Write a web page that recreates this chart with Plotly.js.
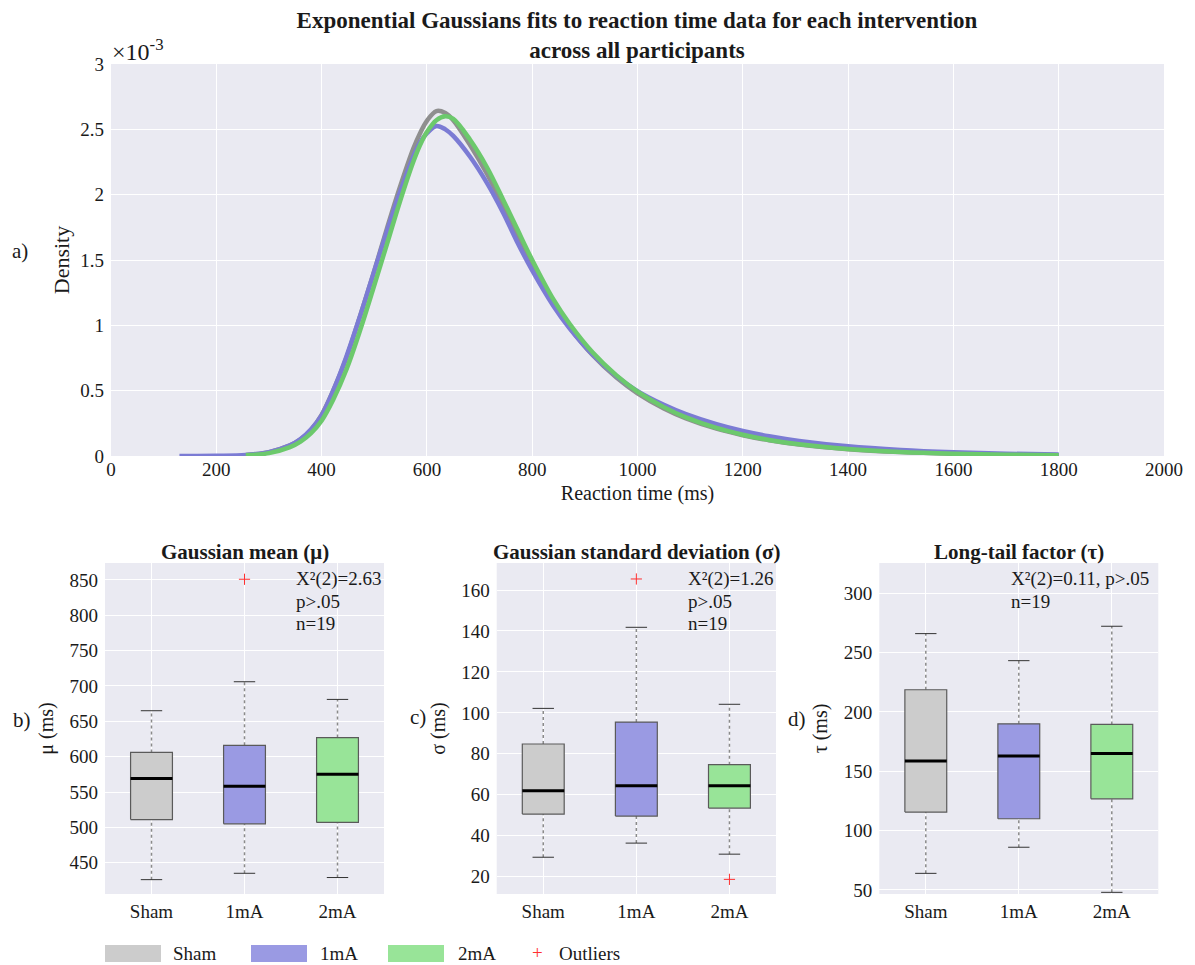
<!DOCTYPE html>
<html>
<head>
<meta charset="utf-8">
<script src="https://cdn.plot.ly/plotly-3.0.1.min.js"></script>
<style>
  html, body { margin: 0; padding: 0; background: #fff; }
  #chart { width: 1195px; height: 965px; }
</style>
</head>
<body>
<div id="chart"></div>
<script>
// ---------------- DATA ----------------
const groups = ['Sham', '1mA', '2mA'];

// Top panel: ex-Gaussian density curves (density in units of 1e-3)
const rtShared = [256, 300, 340, 360, 380, 400, 422, 447, 473, 498, 524, 549, 574, 587, 600, 618, 635, 650, 682, 714,
                  745, 770, 800, 840, 871, 915, 960, 1000, 1050, 1092, 1150, 1200, 1250, 1307, 1400, 1500, 1600, 1700, 1800];
const densSham = [0.007, 0.03, 0.081, 0.127, 0.20, 0.315, 0.50, 0.75, 1.07, 1.39, 1.74, 2.06, 2.35, 2.47, 2.565, 2.64, 2.625, 2.57, 2.38, 2.16,
                  1.91, 1.69, 1.46, 1.168, 0.985, 0.771, 0.600, 0.48, 0.364, 0.288, 0.209, 0.159, 0.12, 0.087, 0.052, 0.030, 0.017, 0.0098, 0.0056];
const rt1mA = [130, 200, 256, 300, 340, 360, 380, 400, 422, 447, 473, 498, 524, 549, 574, 587, 600, 618, 635, 650, 682, 714,
               745, 770, 800, 840, 871, 915, 960, 1000, 1050, 1092, 1150, 1200, 1250, 1307, 1400, 1500, 1600, 1700, 1800];
const dens1mA = [0, 0.001, 0.007, 0.03, 0.082, 0.13, 0.205, 0.31, 0.50, 0.76, 1.07, 1.39, 1.72, 2.02, 2.29, 2.40, 2.47, 2.526, 2.50, 2.45, 2.29, 2.09,
                 1.86, 1.65, 1.42, 1.15, 0.977, 0.775, 0.612, 0.496, 0.391, 0.320, 0.243, 0.191, 0.151, 0.115, 0.0738, 0.0459, 0.0285, 0.0177, 0.011];
const dens2mA = [0.005, 0.022, 0.068, 0.11, 0.175, 0.27, 0.43, 0.66, 0.96, 1.28, 1.62, 1.95, 2.25, 2.38, 2.48, 2.57, 2.60, 2.58, 2.42, 2.21,
                 1.96, 1.75, 1.50, 1.20, 1.012, 0.792, 0.617, 0.493, 0.374, 0.296, 0.215, 0.163, 0.123, 0.0897, 0.0535, 0.0307, 0.0176, 0.0101, 0.0058];
const rtTicks = [0, 200, 400, 600, 800, 1000, 1200, 1400, 1600, 1800, 2000];
const densTicks = [0, 0.5, 1, 1.5, 2, 2.5, 3];
const densTickText = ['0', '0.5', '1', '1.5', '2', '2.5', '3'];

// Box panels (precomputed statistics per group: Sham, 1mA, 2mA)
const muLower = [426, 435, 429];
const muQ1 = [511, 505, 507];
const muMedian = [569, 558, 575];
const muQ3 = [606, 616, 627];
const muUpper = [665, 706, 681];
const muOutGroup = [1];
const muOutVal = [851];
const muTicks = [450, 500, 550, 600, 650, 700, 750, 800, 850];

const sigLower = [29.5, 36.4, 31];
const sigQ1 = [50.6, 49.6, 53.5];
const sigMedian = [62, 64.4, 64.4];
const sigQ3 = [84.8, 95.5, 74.7];
const sigUpper = [102.2, 141.8, 104.2];
const sigOutGroup = [1, 2];
const sigOutVal = [165.4, 18.7];
const sigTicks = [20, 40, 60, 80, 100, 120, 140, 160];

const tauLower = [64, 86, 48];
const tauQ1 = [115.6, 110, 126.8];
const tauMedian = [158.6, 162.8, 165];
const tauQ3 = [218.7, 190, 189.5];
const tauUpper = [266, 243.2, 272.2];
const tauOutGroup = [];
const tauOutVal = [];
const tauTicks = [50, 100, 150, 200, 250, 300];

const statsLines = [
  ['X²(2)=2.63', 'p>.05', 'n=19'],
  ['X²(2)=1.26', 'p>.05', 'n=19'],
  ['X²(2)=0.11, p>.05', 'n=19']
];

// ---------------- STYLE ----------------
const W = 1195, H = 965;
const FONT = 'Liberation Serif, "Times New Roman", serif';
const TXT = '#1a1a1a';
const lineColors = ['#8f8f8f', '#7b7bd4', '#6cc96c'];
const fillColors = ['#cccccc', '#9a9ae3', '#98e498'];
const BG = '#eaeaf2';
const px = v => v / W;
const py = v => 1 - v / H;

const traces = [];

// Top panel curves
const curveX = [rtShared, rt1mA, rtShared];
const curveY = [densSham, dens1mA, dens2mA];
for (let g = 0; g < 3; g++) {
  traces.push({
    type: 'scatter', mode: 'lines', x: curveX[g], y: curveY[g], name: groups[g],
    line: { color: lineColors[g], width: 4.5, shape: 'spline', smoothing: 1 },
    xaxis: 'x', yaxis: 'y', showlegend: false, hoverinfo: 'skip'
  });
}

// Box panels
const HW = 0.225, CAP = 0.115;
const panels = [
  { ax: '2', lo: muLower, q1: muQ1, md: muMedian, q3: muQ3, hi: muUpper, og: muOutGroup, ov: muOutVal },
  { ax: '3', lo: sigLower, q1: sigQ1, md: sigMedian, q3: sigQ3, hi: sigUpper, og: sigOutGroup, ov: sigOutVal },
  { ax: '4', lo: tauLower, q1: tauQ1, md: tauMedian, q3: tauQ3, hi: tauUpper, og: tauOutGroup, ov: tauOutVal }
];
panels.forEach(p => {
  const xa = 'x' + p.ax, ya = 'y' + p.ax;
  for (let i = 0; i < 3; i++) {
    traces.push({ type: 'scatter', mode: 'lines', xaxis: xa, yaxis: ya, showlegend: false, hoverinfo: 'skip',
      x: [i, i, null, i, i], y: [p.lo[i], p.q1[i], null, p.q3[i], p.hi[i]],
      line: { color: '#8a8a8a', width: 1.5, dash: 'dot' } });
    traces.push({ type: 'scatter', mode: 'lines', xaxis: xa, yaxis: ya, showlegend: false, hoverinfo: 'skip',
      x: [i - CAP, i + CAP, null, i - CAP, i + CAP], y: [p.lo[i], p.lo[i], null, p.hi[i], p.hi[i]],
      line: { color: '#333', width: 1 } });
    traces.push({ type: 'scatter', mode: 'lines', xaxis: xa, yaxis: ya, showlegend: false, hoverinfo: 'skip',
      x: [i - HW, i + HW, i + HW, i - HW, i - HW], y: [p.q1[i], p.q1[i], p.q3[i], p.q3[i], p.q1[i]],
      fill: 'toself', fillcolor: fillColors[i], line: { color: '#5a5a5a', width: 1.2 } });
    traces.push({ type: 'scatter', mode: 'lines', xaxis: xa, yaxis: ya, showlegend: false, hoverinfo: 'skip',
      x: [i - HW, i + HW], y: [p.md[i], p.md[i]], line: { color: '#000', width: 3 } });
  }
  if (p.og.length) {
    traces.push({ type: 'scatter', mode: 'markers', xaxis: xa, yaxis: ya, showlegend: false, hoverinfo: 'skip',
      x: p.og, y: p.ov, marker: { symbol: 'cross-thin', size: 8, line: { color: '#ff3030', width: 1 } } });
  }
});

function gridAxis(extra) {
  return Object.assign({
    showgrid: true, gridcolor: '#ffffff', gridwidth: 1, zeroline: false, showline: false,
    ticks: '', tickfont: { family: FONT, size: 19, color: TXT }, fixedrange: true
  }, extra);
}

const boxX = (d) => gridAxis({ domain: d, range: [-0.5, 2.5], tickvals: [0, 1, 2], ticktext: groups, ticklabelstandoff: 4 });
const boxY = (d, r, tv, t, sd) => gridAxis({ domain: d, range: r, tickvals: tv, ticklabelstandoff: 6,
  title: { text: t, font: { family: FONT, size: 20, color: TXT }, standoff: sd } });

const boxYDom = [py(894), py(563)];

const layout = {
  width: W, height: H,
  margin: { l: 0, r: 0, t: 0, b: 0 },
  paper_bgcolor: '#ffffff', plot_bgcolor: BG,
  font: { family: FONT, color: TXT },
  showlegend: false,
  title: {
    text: '<b>Exponential Gaussians fits to reaction time data for each intervention<br>across all participants</b>',
    font: { family: FONT, size: 23, color: TXT },
    x: px(637), xanchor: 'center', y: py(28), yanchor: 'middle', xref: 'paper', yref: 'container'
  },
  xaxis: gridAxis({ domain: [px(111), px(1164)], range: [0, 2000], tickvals: rtTicks, anchor: 'y',
    title: { text: 'Reaction time (ms)', font: { family: FONT, size: 20, color: TXT }, standoff: 6 } }),
  yaxis: gridAxis({ domain: [py(456), py(64)], range: [0, 3], tickvals: densTicks, ticktext: densTickText, anchor: 'x',
    ticklabelstandoff: 6,
    title: { text: 'Density', font: { family: FONT, size: 22, color: TXT }, standoff: 4 } }),
  xaxis2: Object.assign(boxX([px(105), px(384)]), { anchor: 'y2' }),
  yaxis2: Object.assign(boxY(boxYDom, [405.7, 874], muTicks, 'μ (ms)', 10), { anchor: 'x2' }),
  xaxis3: Object.assign(boxX([px(496.7), px(776)]), { anchor: 'y3' }),
  yaxis3: Object.assign(boxY(boxYDom, [11.55, 173.2], sigTicks, 'σ (ms)', 10), { anchor: 'x3' }),
  xaxis4: Object.assign(boxX([px(879.3), px(1158.3)]), { anchor: 'y4' }),
  yaxis4: Object.assign(boxY(boxYDom, [46.6, 325.5], tauTicks, 'τ (ms)', 10), { anchor: 'x4' }),
  annotations: [],
  shapes: []
};

const ann = (x, y, text, opts) => Object.assign({
  xref: 'paper', yref: 'paper', x: px(x), y: py(y), text: text, showarrow: false,
  font: { family: FONT, size: 19, color: TXT }, xanchor: 'center', yanchor: 'middle'
}, opts || {});

// multiplier label
layout.annotations.push(ann(110, 50, '×10<sup>-3</sup>', { xanchor: 'left', font: { family: FONT, size: 24, color: TXT } }));
// panel letters
layout.annotations.push(ann(20, 251, 'a)', { font: { family: FONT, size: 21, color: TXT } }));
layout.annotations.push(ann(22, 720, 'b)', { font: { family: FONT, size: 21, color: TXT } }));
layout.annotations.push(ann(418, 717, 'c)', { font: { family: FONT, size: 21, color: TXT } }));
layout.annotations.push(ann(797, 719, 'd)', { font: { family: FONT, size: 21, color: TXT } }));
// panel titles
const panelTitles = ['<b>Gaussian mean (μ)</b>', '<b>Gaussian standard deviation (σ)</b>', '<b>Long-tail factor (τ)</b>'];
const panelCenters = [245, 636, 1019];
panelTitles.forEach((t, k) => layout.annotations.push(ann(panelCenters[k], 552, t, { font: { family: FONT, size: 21, color: TXT } })));
// statistics text, one annotation per line
const statsLeft = [294, 686, 1009];
const statsLineY = [579, 601, 623];
statsLines.forEach((lines, k) => lines.forEach((t, j) =>
  layout.annotations.push(ann(statsLeft[k], statsLineY[j], t, { xanchor: 'left', font: { family: FONT, size: 19, color: TXT } }))));

// legend (bottom)
const legSwatchLeft = [105, 251, 388];
const legTextLeft = [171, 318, 456];
for (let g = 0; g < 3; g++) {
  layout.shapes.push({ type: 'rect', xref: 'paper', yref: 'paper',
    x0: px(legSwatchLeft[g]), x1: px(legSwatchLeft[g] + 56), y0: py(962), y1: py(945),
    fillcolor: fillColors[g], line: { width: 0 } });
  layout.annotations.push(ann(legTextLeft[g], 953, groups[g], { xanchor: 'left' }));
}
layout.annotations.push(ann(537, 952, '+', { font: { family: FONT, size: 19, color: '#ff3030' } }));
layout.annotations.push(ann(557, 953, 'Outliers', { xanchor: 'left' }));

Plotly.newPlot('chart', traces, layout, { displayModeBar: false, staticPlot: true });
</script>
</body>
</html>
